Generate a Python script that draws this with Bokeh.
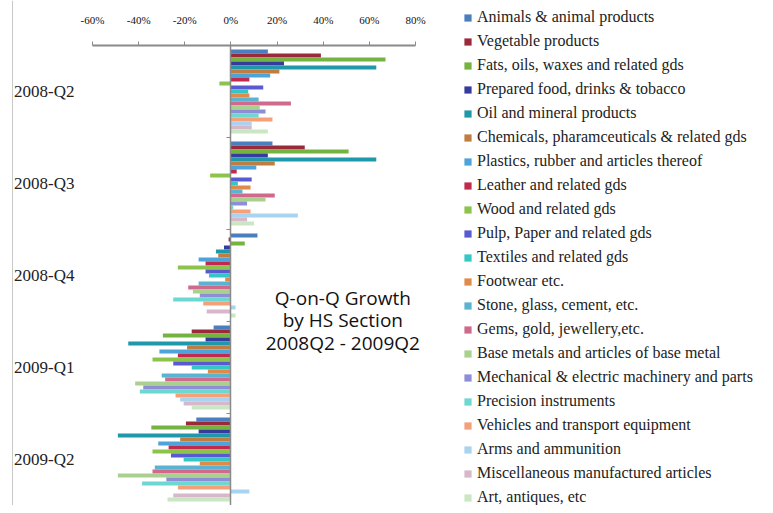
from bokeh.plotting import figure
from bokeh.models import (ColumnDataSource, Range1d, Span, Label, LinearAxis,
                          FixedTicker, Legend, LegendItem)
from bokeh.transform import dodge
from bokeh.embed import file_html
from bokeh.resources import INLINE

QUARTERS = ["2008-Q2", "2008-Q3", "2008-Q4", "2009-Q1", "2009-Q2"]

SERIES = [
    "Animals & animal products",
    "Vegetable products",
    "Fats, oils, waxes and related gds",
    "Prepared food, drinks & tobacco",
    "Oil and mineral products",
    "Chemicals, pharamceuticals & related gds",
    "Plastics, rubber and articles thereof",
    "Leather and related gds",
    "Wood and related gds",
    "Pulp, Paper and related gds",
    "Textiles and related gds",
    "Footwear etc.",
    "Stone, glass, cement, etc.",
    "Gems, gold, jewellery,etc.",
    "Base metals and articles of base metal",
    "Mechanical & electric machinery and parts",
    "Precision instruments",
    "Vehicles and transport equipment",
    "Arms and ammunition",
    "Miscellaneous manufactured articles",
    "Art, antiques, etc",
]

COLORS = [
    "#4a7ebf", "#9a2a3a", "#74b33f", "#363c9c", "#1f98ab", "#bf7d42",
    "#4ea3da", "#c02a4c", "#8cc34c", "#5a5ad0", "#36c6c6", "#e08a4a",
    "#5ab3d0", "#d06a8c", "#a9d08e", "#8e8ed6", "#6dd8cf", "#f4a07a",
    "#a9d3ee", "#d6b8ca", "#cbe6c2",
]

# growth in %, one list per quarter, in SERIES order
Q2_2008 = [16, 39, 67, 23, 63, 21, 17, 8, -5, 14, 7.5, 8, 12, 26, 12.5, 15, 12, 18, 9, 9, 16]
Q3_2008 = [18, 32, 51, 16, 63, 19, 11, 2.5, -9, 9, 3, 8.5, 5, 19, 15, 7, 1, 8.5, 29, 7, 10]
Q4_2008 = [11.5, -1, 6, -3, -6.5, -5.5, -14, -11, -23, -11, -9.5, -2.5, -14, -18.5, -16.5,
           -13.5, -25, -12, 2, -10.5, 2]
Q1_2009 = [-7.5, -17, -29.5, -11, -44.5, -19, -31, -23, -34, -25, -17, -10, -30, -28.5, -41.5,
           -38, -39.5, -24, -22, -20.5, -17]
Q2_2009 = [-15, -19.5, -34.5, -14, -49, -22, -31.5, -27, -34, -26, -20.5, -13.5, -33, -34, -49,
           -28, -38.5, -23, 8, -25, -27.5]

X_TICKS = [-60, -40, -20, 0, 20, 40, 60, 80]
X_TICK_LABELS = ["-60%", "-40%", "-20%", "0%", "20%", "40%", "60%", "80%"]

TITLE_LINES = ["Q-on-Q Growth", "by HS Section", "2008Q2 - 2009Q2"]

BY_QUARTER = [Q2_2008, Q3_2008, Q4_2008, Q1_2009, Q2_2009]

# ---- layout geometry (pixels) ----
W, H = 765, 505
PLOT_L, PLOT_R, PLOT_T = 92, 415, 45          # where the -60% .. 80% axis and bars area sit
XMIN, XMAX = X_TICKS[0], X_TICKS[-1]
px_per_unit = (PLOT_R - PLOT_L) / (XMAX - XMIN)
nq = len(QUARTERS)
band_px = (H - PLOT_T) / nq

x_start = XMIN - PLOT_L / px_per_unit
x_end = XMAX + (W - PLOT_R) / px_per_unit
y_top = H / band_px

# quarter index -> band centre (first quarter at the top)
QPOS = [nq - 0.5 - i for i in range(nq)]

p = figure(
    x_range=Range1d(x_start, x_end), y_range=Range1d(0, y_top),
    x_axis_location="above",
    width=W, height=H, min_border=0,
    output_backend="svg", toolbar_location=None,
)
p.outline_line_color = None
p.xgrid.visible = False
p.ygrid.visible = False
p.background_fill_color = "white"
p.border_fill_color = "white"

n = len(SERIES)
bar_h = 0.0435
items = []
for j, (name, color) in enumerate(zip(SERIES, COLORS)):
    vals = [q[j] for q in BY_QUARTER]
    src = ColumnDataSource(dict(pos=QPOS, val=vals))
    off = ((n - 1) / 2 - j) * bar_h
    r = p.hbar(y=dodge("pos", off), left=0, right="val",
               height=bar_h * 0.98, source=src, fill_color=color, line_color=None)
    items.append(LegendItem(label=name, renderers=[r]))

# x axis along the top of the bars area
xa = p.xaxis[0]
xa.fixed_location = nq
xa.bounds = (XMIN, XMAX)
xa.ticker = FixedTicker(ticks=X_TICKS)
xa.major_label_overrides = {t: l for t, l in zip(X_TICKS, X_TICK_LABELS)}
xa.axis_line_color = "#8a8a8a"
xa.axis_line_width = 2
xa.major_tick_line_color = "#8a8a8a"
xa.major_tick_out = 4
xa.major_tick_in = 0
xa.minor_tick_line_color = None
xa.major_label_text_font = "Liberation Serif"
xa.major_label_text_font_size = "11px"
xa.major_label_text_color = "#111111"
xa.major_label_standoff = 16

# category labels
ya = p.yaxis[0]
ya.fixed_location = XMIN
ya.ticker = FixedTicker(ticks=QPOS)
ya.major_label_overrides = {q: l for q, l in zip(QPOS, QUARTERS)}
ya.axis_line_color = None
ya.major_tick_line_color = None
ya.minor_tick_line_color = None
ya.major_label_text_font = "Liberation Serif"
ya.major_label_text_font_size = "17px"
ya.major_label_text_color = "#222222"
ya.major_label_standoff = 12

# zero line (category axis crossing at 0%), small ticks between quarters
za = LinearAxis(fixed_location=0, bounds=(0, nq),
                ticker=FixedTicker(ticks=[], minor_ticks=list(range(nq + 1))))
za.axis_line_color = "#8a8a8a"
za.axis_line_width = 1.5
za.major_tick_line_color = None
za.minor_tick_line_color = "#8a8a8a"
za.minor_tick_out = 4
za.minor_tick_in = 0
p.add_layout(za, "left")

# faint frame line at the left edge
p.add_layout(Span(location=XMIN - (PLOT_L - 12) / px_per_unit, dimension="height",
                  line_color="#c8c8c8", line_width=1))

title_y = [2.26, 2.015, 1.77]
for line, yy in zip(TITLE_LINES, title_y):
    p.add_layout(Label(x=48.5, y=yy, text=line, text_align="center",
                       text_baseline="middle", text_font="Open Sans",
                       text_font_size="19px", text_color="#111111"))

legend = Legend(items=items, location=(463, -1), orientation="vertical",
                padding=0, margin=0, spacing=6, label_height=0,
                glyph_width=9, glyph_height=9, label_standoff=5,
                label_text_font="Liberation Serif", label_text_font_size="16px",
                label_text_color="#222222", border_line_color=None,
                background_fill_alpha=0)
p.add_layout(legend, "center")

open("out.html", "w").write(file_html(p, INLINE))
